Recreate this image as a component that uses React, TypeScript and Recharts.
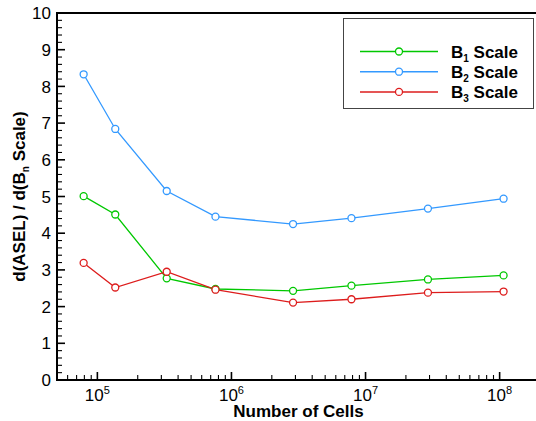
import React from "react";
import { LineChart, Line, XAxis, YAxis, ReferenceArea, Legend, Label } from "recharts";

// values
const cellCounts = [7.9e4, 1.36e5, 3.29e5, 7.6e5, 2.88e6, 7.85e6, 2.92e7, 1.07e8];
const b1Scale = [5.01, 4.51, 2.77, 2.48, 2.43, 2.57, 2.74, 2.85];
const b2Scale = [8.33, 6.84, 5.15, 4.45, 4.25, 4.41, 4.67, 4.94];
const b3Scale = [3.19, 2.52, 2.95, 2.46, 2.11, 2.2, 2.38, 2.41];

const seriesNames = ["B_1 Scale", "B_2 Scale", "B_3 Scale"];
const seriesColors = ["#00c800", "#3399ff", "#dd1c1c"];

const xDomain = [5e4, 2e8];
const xDecades = [1e4, 1e5, 1e6, 1e7, 1e8];
const yMajorTicks = [0, 1, 2, 3, 4, 5, 6, 7, 8, 9, 10];

const FONT = '"Liberation Sans", Arial, Helvetica, sans-serif';

const chartData = cellCounts.map((c, i) => ({
  cells: c,
  b1: b1Scale[i],
  b2: b2Scale[i],
  b3: b3Scale[i],
}));

// major + minor ticks on the log axis
const xTicks: number[] = [];
xDecades.forEach((d) => {
  for (let m = 1; m <= 9; m++) {
    const v = m * d;
    if (v >= xDomain[0] && v <= xDomain[1]) xTicks.push(v);
  }
});

const yTicks: number[] = [];
for (let i = 0; i < yMajorTicks.length - 1; i++) {
  for (let k = 0; k < 5; k++) yTicks.push(yMajorTicks[i] + k * 0.2);
}
yTicks.push(yMajorTicks[yMajorTicks.length - 1]);

const XTick = (props: any) => {
  const { x, y, payload } = props;
  const v = payload.value;
  const exp = Math.round(Math.log10(v));
  const major = Math.abs(v - Math.pow(10, exp)) < 1e-6 * v;
  return (
    <g>
      <line x1={x} x2={x} y1={y} y2={y - (major ? 8 : 5)} stroke="#000" strokeWidth={major ? 1.6 : 1.1} />
      {major && (
        <text x={x} y={y + 21} textAnchor="middle" fontSize={17} fill="#000" fontFamily={FONT}>
          10
          <tspan dy={-7} fontSize={11}>
            {exp}
          </tspan>
        </text>
      )}
    </g>
  );
};

const YTick = (props: any) => {
  const { x, y, payload } = props;
  const v = payload.value;
  const major = Math.abs(v - Math.round(v)) < 1e-6;
  return (
    <g>
      <line x1={x} x2={x + (major ? 8 : 5)} y1={y} y2={y} stroke="#000" strokeWidth={major ? 1.6 : 1.1} />
      {major && (
        <text x={x - 6} y={y} dy="0.36em" textAnchor="end" fontSize={17} fill="#000" fontFamily={FONT}>
          {Math.round(v)}
        </text>
      )}
    </g>
  );
};

const YAxisTitle = (props: any) => {
  const { viewBox } = props;
  const cy = viewBox.y + viewBox.height / 2;
  const cx = 25;
  return (
    <text
      x={cx}
      y={cy}
      transform={`rotate(-90, ${cx}, ${cy})`}
      textAnchor="middle"
      fontSize={17}
      fontWeight="bold"
      fill="#000"
      fontFamily={FONT}
    >
      d(ASEL) / d(B
      <tspan dy={4} fontSize={10}>
        n
      </tspan>
      <tspan dy={-4}> Scale)</tspan>
    </text>
  );
};

const XAxisTitle = (props: any) => {
  const { viewBox } = props;
  const cx = viewBox.x + viewBox.width / 2;
  return (
    <text x={cx} y={417} textAnchor="middle" fontSize={17} fontWeight="bold" fill="#000" fontFamily={FONT}>
      Number of Cells
    </text>
  );
};

const LegendBox = (props: any) => {
  const payload = props.payload || [];
  return (
    <div style={{ border: "1px solid #444", background: "#fff", width: 189, height: 89 }}>
      <svg width={189} height={89}>
        {payload.map((p: any, i: number) => {
          const cy = 32.5 + i * 20.2;
          const name: string = p.value;
          const [pre, rest] = name.split("_");
          return (
            <g key={name}>
              <line x1={16} x2={94} y1={cy} y2={cy} stroke={p.color} strokeWidth={1.5} />
              <circle cx={55} cy={cy} r={3.5} fill="#fff" stroke={p.color} strokeWidth={1.3} />
              <text x={107} y={cy + 6} fontSize={17} fontWeight="bold" fill="#000" fontFamily={FONT}>
                {pre}
                <tspan dy={4} fontSize={10}>
                  {rest.charAt(0)}
                </tspan>
                <tspan dy={-4}>{rest.slice(1)}</tspan>
              </text>
            </g>
          );
        })}
      </svg>
    </div>
  );
};

const App: React.FC = () => {
  const keys = ["b1", "b2", "b3"];
  return (
    <div
      style={{
        position: "fixed",
        left: 0,
        top: 0,
        width: 536,
        height: 421,
        overflow: "hidden",
        background: "#fff",
        fontFamily: FONT,
      }}
    >
      <LineChart width={560} height={421} data={chartData} margin={{ top: 13, right: 20, left: 0, bottom: 0 }}>
        <XAxis
          dataKey="cells"
          type="number"
          scale="log"
          domain={xDomain}
          allowDataOverflow
          ticks={xTicks}
          interval={0}
          tickSize={0}
          tickMargin={0}
          tickLine={false}
          axisLine={false}
          height={41}
          tick={(p: any) => <XTick {...p} />}
        >
          <Label content={(p: any) => <XAxisTitle {...p} />} />
        </XAxis>
        <YAxis
          type="number"
          domain={[0, 10]}
          allowDataOverflow
          ticks={yTicks}
          interval={0}
          tickSize={0}
          tickMargin={0}
          tickLine={false}
          axisLine={false}
          width={57}
          tick={(p: any) => <YTick {...p} />}
        >
          <Label content={(p: any) => <YAxisTitle {...p} />} />
        </YAxis>
        <ReferenceArea
          x1={xDomain[0]}
          x2={xDomain[1]}
          y1={0}
          y2={10}
          fill="none"
          fillOpacity={0}
          stroke="#000"
          strokeWidth={2}
        />
        {keys.map((k, i) => (
          <Line
            key={k}
            dataKey={k}
            name={seriesNames[i]}
            stroke={seriesColors[i]}
            strokeWidth={1.3}
            dot={{ r: 3.5, fill: "#fff", stroke: seriesColors[i], strokeWidth: 1.3 }}
            isAnimationActive={false}
          />
        ))}
        <Legend
          verticalAlign="middle"
          layout="horizontal"
          content={(p: any) => <LegendBox {...p} />}
          wrapperStyle={{ position: "absolute", left: 343, top: 18, width: "auto", height: "auto" }}
        />
      </LineChart>
    </div>
  );
};

export default App;
